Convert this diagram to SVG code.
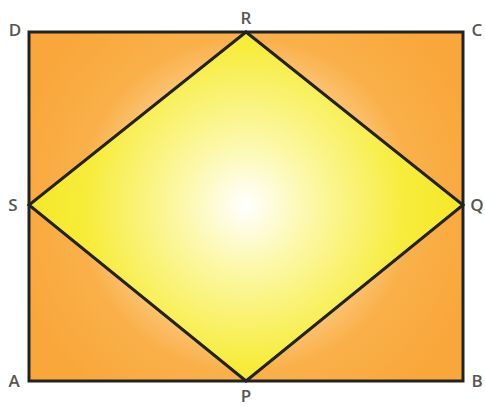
<svg xmlns="http://www.w3.org/2000/svg" width="485" height="408" viewBox="0 0 485 408">
<defs>
<radialGradient id="og" cx="246" cy="205" r="240" gradientUnits="userSpaceOnUse">
<stop offset="0" stop-color="#ffffff"/>
<stop offset="0.35" stop-color="#fde0b0"/>
<stop offset="0.7" stop-color="#fab04a"/>
<stop offset="1" stop-color="#f9a73a"/>
</radialGradient>
<radialGradient id="yg" cx="246" cy="205" r="215" gradientUnits="userSpaceOnUse">
<stop offset="0" stop-color="#ffffff"/>
<stop offset="0.3" stop-color="#fcf8a8"/>
<stop offset="0.75" stop-color="#f7ec3a"/>
<stop offset="1" stop-color="#f5e82a"/>
</radialGradient>
</defs>
<style>
.lbl{font-family:"Open Sans","Liberation Sans",sans-serif;font-size:17px;font-weight:600;fill:#555;text-anchor:middle}
.edge{stroke:#222;stroke-width:3;stroke-linejoin:miter}
.orange{fill:url(#og)}
.yellow{fill:url(#yg)}
</style>
<g id="rectangle">
<rect x="29" y="32" width="434" height="349" class="edge orange"/>
</g>
<g id="rhombus">
<polygon points="246,32 463,205 246,381 29,205" class="edge yellow"/>
</g>
<g id="labels">
<text class="lbl" x="15" y="36">D</text>
<text class="lbl" x="246" y="24">R</text>
<text class="lbl" x="477" y="36">C</text>
<text class="lbl" x="13" y="211">S</text>
<text class="lbl" x="477" y="211">Q</text>
<text class="lbl" x="14" y="387">A</text>
<text class="lbl" x="246" y="402">P</text>
<text class="lbl" x="477" y="387">B</text>
</g>
</svg>
